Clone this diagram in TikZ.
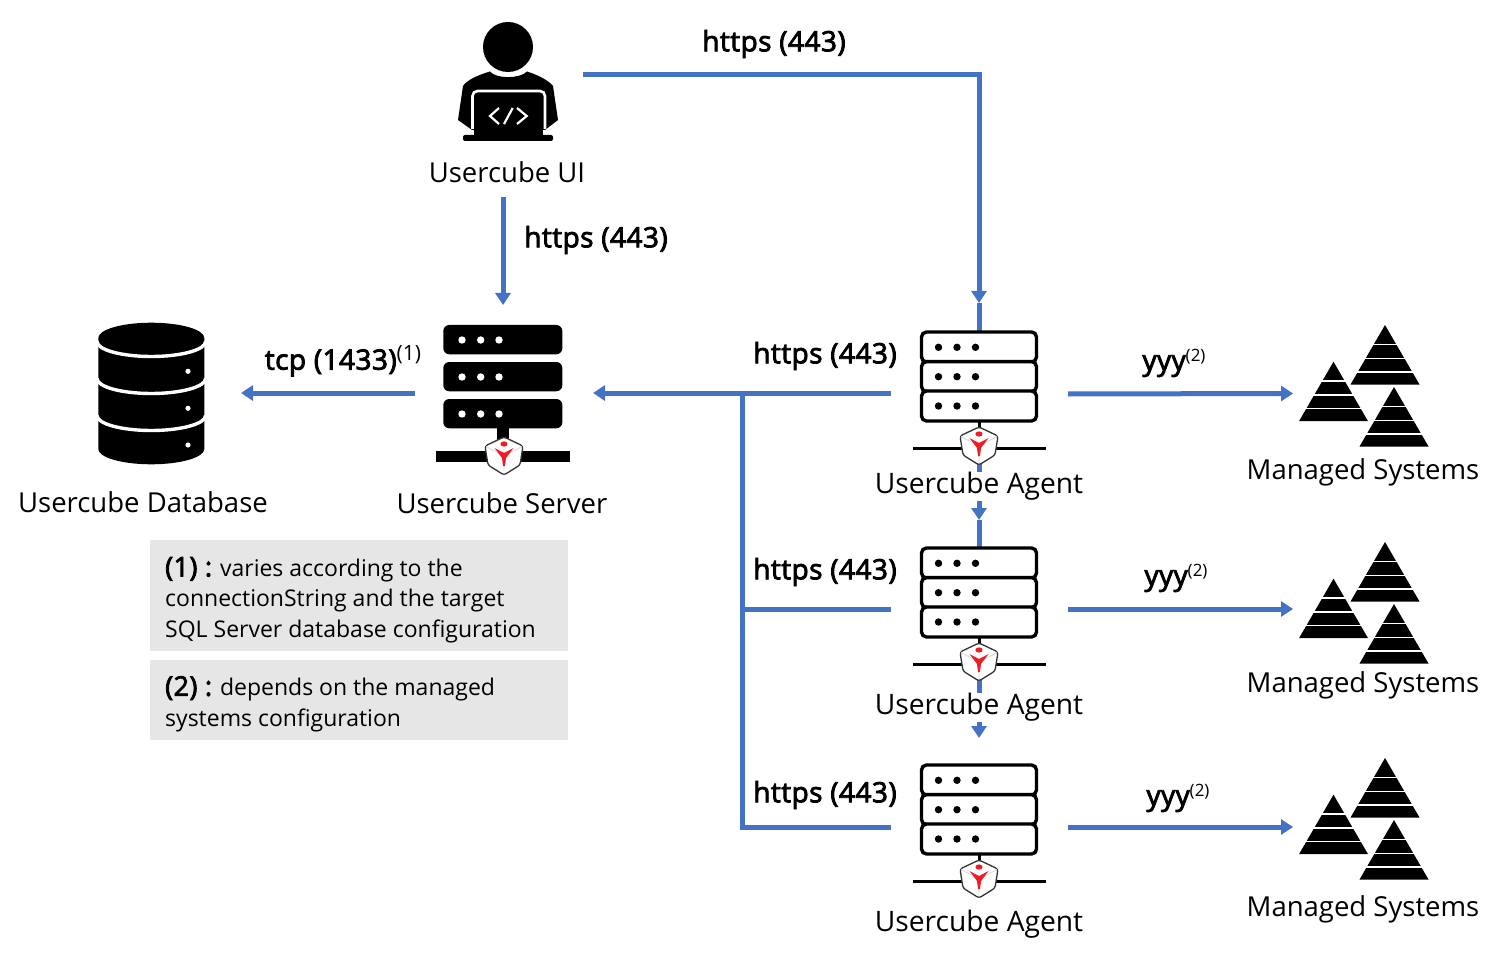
\documentclass[tikz,border=0pt]{standalone}
\usepackage{fontspec}
\setmainfont{Open Sans}[BoldFont={Open Sans},BoldFeatures={FakeBold=3,LetterSpace=1.6}]
\usetikzlibrary{arrows.meta}
\definecolor{linkblue}{HTML}{4472C4}
\definecolor{notegrey}{HTML}{E6E6E6}
\definecolor{shieldred}{HTML}{EE1C25}
\tikzset{
  lbl/.style={inner sep=0pt,font=\fontsize{27.5}{32}\selectfont},
  link/.style={inner sep=0pt,font=\fontsize{28}{32}\selectfont\bfseries},
  note/.style={fill=notegrey,inner sep=0pt,minimum width=418pt,anchor=north west},
  conn/.style={draw=linkblue,line width=5pt},
  arrowed/.style={conn,-{Triangle[length=12pt,width=15pt]}},
  pics/shield/.style={code={
    \fill [white,draw=black!80,line width=1.3pt,line join=round,rounded corners=2.5pt] (0,-18) -- (19,-9) -- (16,10) -- (0,20) -- (-16,10) -- (-19,-9) -- cycle;
    \draw [black!15,line width=0.8pt] (0,1) -- (18,-8.5) (0,1) -- (-18,-8.5) (0,1) -- (0,19);
    \fill [shieldred] (0,-11) ellipse (3.6 and 2.6);
    \fill [shieldred] (-9.5,-7) -- (-1,-2.5) -- (1,-2.5) -- (9.5,-7) -- (2,3) -- (1,11) -- (-1,11) -- (-2,3) -- cycle;
  }},
  pics/pyramid/.style={code={
    \fill [black] (0,0) -- (34.5,59.5) -- (-34.5,59.5) -- cycle;
    \foreach \f in {0.326,0.56,0.79}
      \draw [white,line width=1.5pt] ({-34.5*\f-1},{59.5*\f}) -- ({34.5*\f+1},{59.5*\f});
  }},
  pics/pyramids/.style={code={
    \pic at (0,0) {pyramid};
    \pic at (-51.5,36.7) {pyramid};
    \pic at (9,62) {pyramid};
  }},
  pics/agenticon/.style={code={
    \draw [black,line width=3pt] (-66.5,116.7) -- (66.5,116.7);
    \draw [black,line width=3pt] (0,89) -- (0,110);
    \foreach \r in {0,29.6,59}
      \draw [black,line width=3.4pt,fill=white,rounded corners=5pt] (-57.5,{\r}) rectangle (57.5,{\r+30});
    \foreach \r in {15.3,44.7,74}
      \foreach \d in {-40.5,-22,-3.5}
        \fill [black] (\d,\r) circle (3.7);
    \pic at (0,113) {shield};
  }}
}
\begin{document}
\begin{tikzpicture}[x=1pt,y=-1pt]
\useasboundingbox (0,0) rectangle (1498,957);

\fill [black] (508,47) circle (25);
\fill [black] (490,71.5) .. controls (478,75) and (467,80) .. (463,86) -- (458,120) -- (472,130) -- (545,130) -- (558,120) -- (553,86) .. controls (548,80) and (538,75) .. (527,71.5) .. controls (520,79) and (496,79) .. (490,71.5) -- cycle;
\draw [white,line width=2.6pt,rounded corners=5pt] (472.5,129) -- (472.5,91) -- (545,91) -- (545,129);
\fill [black,rounded corners=2pt] (463,135) rectangle (553,141);
\fill [black] (474,128) rectangle (543,137);
\draw [white,line width=2.2pt] (499,108) -- (490,116) -- (499,124);
\draw [white,line width=2.2pt] (512.7,108) -- (504,124);
\draw [white,line width=2.2pt] (517,108) -- (526.7,116) -- (517,124);
\node [lbl] (uilabel) at (507,172) {Usercube UI};

\fill [black] (98.3,338) -- (98.3,449) arc [start angle=180,end angle=0,x radius=53,y radius=15.3] -- (204.3,338) arc [start angle=0,end angle=-180,x radius=53,y radius=15.3] -- cycle;
\foreach \y in {341.5,378.5,415.5}
  \draw [white,line width=3.4pt] (97,\y) arc [start angle=180,end angle=0,x radius=54.3,y radius=15];
\foreach \y in {371.3,408.3,445}
  \fill [white] (188,\y) circle (2.6);
\node [lbl] (dblabel) at (143,502) {Usercube Database};

\foreach \y in {325,362,399}
  \fill [black,rounded corners=6pt] (443.3,\y) rectangle (562.3,{\y+29.3});
\foreach \y in {340,377,414}
  \foreach \x in {462,480.7,499}
    \fill [white] (\x,\y) circle (3.7);
\fill [black] (497,428) rectangle (509,446);
\fill [black] (436,450.7) rectangle (570,461.7);
\pic at (504,455) {shield};
\node [lbl] (srvlabel) at (502,503) {Usercube Server};

\coordinate (uiright) at (583,75);
\coordinate (topcorner) at (979,75);
\coordinate (agentA) at (979,332);
\coordinate (arrowA) at (979,303);
\coordinate (uidown) at (503,197);
\coordinate (srvtop) at (503,305);
\coordinate (srvleft) at (415,393);
\coordinate (dbright) at (241,393);
\coordinate (srvright) at (593,393);
\coordinate (outA) at (891,393);
\coordinate (branchA) at (742,393);
\coordinate (branchB) at (742,609);
\coordinate (outB) at (891,609);
\coordinate (outC) at (891,827);
\coordinate (agentAdown) at (979,460);
\coordinate (arrowB) at (979,520);
\coordinate (agentB) at (979,548);
\coordinate (agentBdown) at (979,676);
\coordinate (arrowC) at (979,738);
\coordinate (sysAstart) at (1068,394);
\coordinate (sysAend) at (1293,393.5);
\coordinate (sysBstart) at (1068,609);
\coordinate (sysBend) at (1293,609);
\coordinate (sysCstart) at (1068,827);
\coordinate (sysCend) at (1293,827);

\draw [arrowed] (uiright) -- (topcorner) -- (arrowA);
\draw [conn] (arrowA) -- (agentA);
\draw [arrowed] (uidown) -- (srvtop);
\draw [arrowed] (srvleft) -- (dbright);
\draw [arrowed] (outA) -- (srvright);
\draw [conn] (branchA) -- (branchB) |- (outC);
\draw [conn] (branchB) -- (outB);
\draw [arrowed] (agentAdown) -- (arrowB);
\draw [conn] (arrowB) -- (agentB);
\draw [arrowed] (agentBdown) -- (arrowC);
\draw [arrowed] (sysAstart) -- (sysAend);
\draw [arrowed] (sysBstart) -- (sysBend);
\draw [arrowed] (sysCstart) -- (sysCend);

\pic at (979,332) {agenticon};
\pic at (979,548) {agenticon};
\pic at (979,765) {agenticon};
\node [lbl,fill=white,font=\fontsize{28.2}{32}\selectfont] (agentlabelA) at (979,486.5) {Usercube Agent};
\node [lbl,fill=white,font=\fontsize{28.2}{32}\selectfont] (agentlabelB) at (979,707.5) {Usercube Agent};
\node [lbl,font=\fontsize{28.2}{32}\selectfont] (agentlabelC) at (979,924.5) {Usercube Agent};

\pic at (1385,325) {pyramids};
\pic at (1385,542) {pyramids};
\pic at (1385,758) {pyramids};
\node [lbl] (syslabelA) at (1363,472) {Managed Systems};
\node [lbl] (syslabelB) at (1363,685) {Managed Systems};
\node [lbl] (syslabelC) at (1363,909) {Managed Systems};

\node [link] (linktop) at (774,44) {https (443)};
\node [link] (linkui) at (596,240) {https (443)};
\node [link] (linkA) at (825,356) {https (443)};
\node [link] (linkB) at (825,572) {https (443)};
\node [link] (linkC) at (825,795) {https (443)};
\node [link] (linktcp) at (343,361) {tcp (1433)\raisebox{9pt}{\fontsize{21}{24}\selectfont\mdseries (1)}};
\node [link] (yyyA) at (1174,363) {yyy\raisebox{9pt}{\fontsize{17}{20}\selectfont\mdseries (2)}};
\node [link] (yyyB) at (1176,578) {yyy\raisebox{9pt}{\fontsize{17}{20}\selectfont\mdseries (2)}};
\node [link] (yyyC) at (1178,798) {yyy\raisebox{9pt}{\fontsize{17}{20}\selectfont\mdseries (2)}};

\node [note,minimum height=111pt] (noteone) at (150,540) {};
\node [note,minimum height=80pt] (notetwo) at (150,660) {};
\node [anchor=west,inner sep=0pt,align=left,font=\fontsize{23}{30.5}\selectfont] (notetextone) at (165,600) {{\fontsize{27}{30.5}\selectfont\bfseries (1) :} varies according to the\\connectionString and the target\\SQL Server database configuration};
\node [anchor=west,inner sep=0pt,align=left,font=\fontsize{23}{30.5}\selectfont] (notetexttwo) at (165,704) {{\fontsize{27}{30.5}\selectfont\bfseries (2) :} depends on the managed\\systems configuration};
\end{tikzpicture}
\end{document}
